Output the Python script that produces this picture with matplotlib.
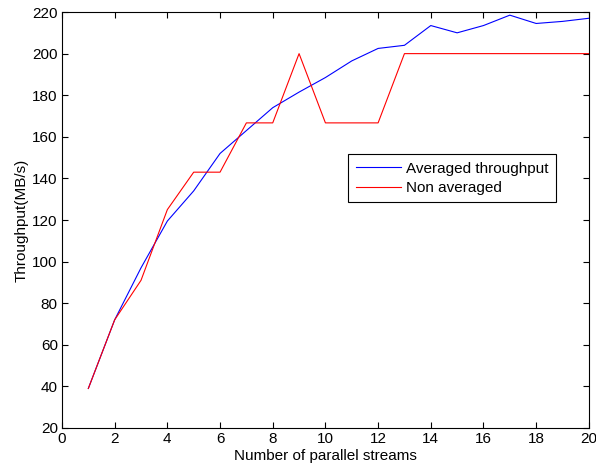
import numpy as np
import matplotlib
matplotlib.use('Agg')
import matplotlib.pyplot as plt

plt.rcParams['font.family'] = ['Liberation Sans', 'DejaVu Sans']

# Data
streams = np.arange(1, 21)
averaged = [39, 72, 97, 119.5, 134, 152, 163, 174, 181.5, 188.5,
            196.5, 202.5, 204, 213.5, 210, 213.5, 218.5, 214.5, 215.5, 217]
non_averaged = [39, 72, 91, 125, 143, 143, 166.7, 166.7, 200, 166.7,
                166.7, 166.7, 200, 200, 200, 200, 200, 200, 200, 200]

fig = plt.figure(figsize=(5.96, 4.70), dpi=100)
ax = fig.add_axes([0.104, 0.0894, 0.884, 0.885])

ax.plot(streams, averaged, color='#0000ff', linewidth=0.8, label='Averaged throughput')
ax.plot(streams, non_averaged, color='#ff0000', linewidth=0.8, label='Non averaged')

ax.set_xlim(0, 20)
ax.set_ylim(20, 220)
ax.set_xticks(np.arange(0, 21, 2))
ax.set_yticks(np.arange(20, 221, 20))
ax.tick_params(direction='in', top=True, right=True, labelsize=11, length=4, pad=3)
for s in ax.spines.values():
    s.set_linewidth(0.8)

ax.set_xlabel('Number of parallel streams', fontsize=11, labelpad=2)
ax.set_ylabel('Throughput(MB/s)', fontsize=11, labelpad=3)

leg = ax.legend(loc='upper left', bbox_to_anchor=(0.543, 0.659), fontsize=11,
                fancybox=False, framealpha=1, edgecolor='black',
                borderaxespad=0, handlelength=2.95, handletextpad=0.35,
                borderpad=0.5, labelspacing=0.35)
leg.get_frame().set_linewidth(0.8)

plt.savefig('out.png', dpi=100)
